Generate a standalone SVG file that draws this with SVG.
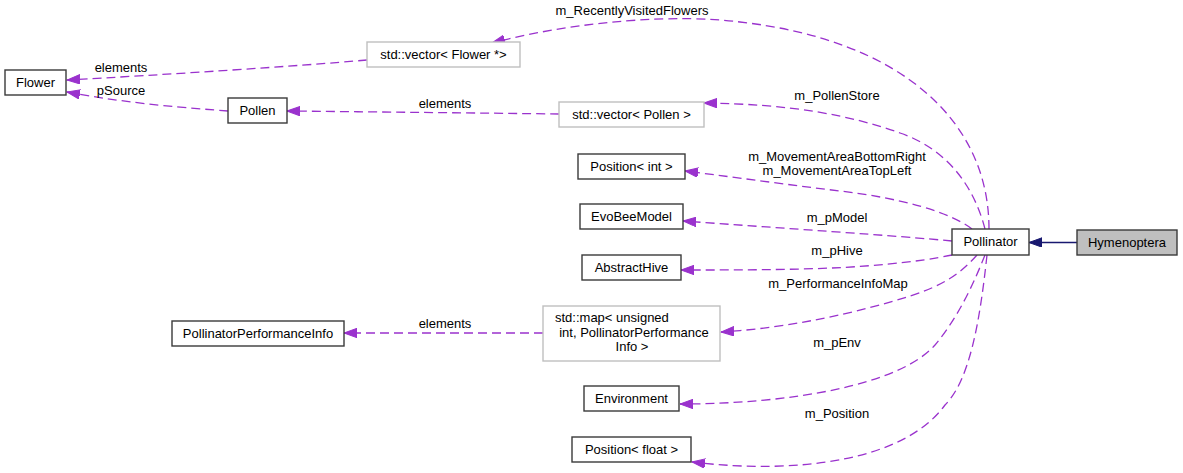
<svg xmlns="http://www.w3.org/2000/svg" width="1183" height="473" viewBox="0 0 1183 473">
  <style>
    .box { fill: #ffffff; stroke: #3a3a3a; stroke-width: 1.4; }
    .tmpl { fill: #ffffff; stroke: #bfbfbf; stroke-width: 1.4; }
    .cur { fill: #bfbfbf; stroke: #3a3a3a; stroke-width: 1.4; }
    text { font-family: "Liberation Sans", Arial, Helvetica, sans-serif; font-size: 13px; fill: #000000; }
    .c { text-anchor: middle; }
    .use { fill: none; stroke: #9a32cd; stroke-width: 1.3; stroke-dasharray: 9 5; }
    .inh { fill: none; stroke: #191970; stroke-width: 1.3; }
  </style>
  <defs>
    <marker id="headUse" markerUnits="userSpaceOnUse" markerWidth="14" markerHeight="10" refX="13" refY="4.7" orient="auto">
      <path d="M0,0 L13,4.7 L0,9.4 z" fill="#9a32cd" stroke="#9a32cd" stroke-width="1" stroke-dasharray="none"/>
    </marker>
    <marker id="headInh" markerUnits="userSpaceOnUse" markerWidth="14" markerHeight="10" refX="13" refY="4.7" orient="auto">
      <path d="M0,0 L13,4.7 L0,9.4 z" fill="#191970" stroke="#191970" stroke-width="1" stroke-dasharray="none"/>
    </marker>
  </defs>

  <rect width="1183" height="473" fill="#ffffff"/>

  <!-- connectors -->
  <g id="edges">
    <path class="inh" d="M1077,242.5 L1029,242.5" marker-end="url(#headInh)"/>

    <path class="use" d="M989,229 C989,120 900,40 740,22 C680,14 580,20 492,43" marker-end="url(#headUse)"/>
    <text class="c" x="632" y="15">m_RecentlyVisitedFlowers</text>

    <path class="use" d="M985,229 C975,190 950,150 900,133 C850,115 790,104 704,103" marker-end="url(#headUse)"/>
    <text class="c" x="837" y="100">m_PollenStore</text>

    <path class="use" d="M972,229 C950,212 900,198 840,191 C790,185 740,178 685,171" marker-end="url(#headUse)"/>
    <text class="c" x="837" y="161">m_MovementAreaBottomRight</text>
    <text class="c" x="837" y="175">m_MovementAreaTopLeft</text>

    <path class="use" d="M952,241 C900,236 780,228 683,221" marker-end="url(#headUse)"/>
    <text class="c" x="837" y="222">m_pModel</text>

    <path class="use" d="M952,255 C920,262 860,268 800,269 C760,270 720,270 681,270" marker-end="url(#headUse)"/>
    <text class="c" x="837" y="255">m_pHive</text>

    <path class="use" d="M977,255 C962,272 945,285 910,296 C860,312 790,328 721,332" marker-end="url(#headUse)"/>
    <text class="c" x="838" y="288">m_PerformanceInfoMap</text>

    <path class="use" d="M985,255 C975,280 960,315 935,345 C900,385 790,404 680,404" marker-end="url(#headUse)"/>
    <text class="c" x="837" y="347">m_pEnv</text>

    <path class="use" d="M987,255 C980,320 970,380 945,405 C905,460 800,475 692,462" marker-end="url(#headUse)"/>
    <text class="c" x="837" y="418">m_Position</text>

    <path class="use" d="M367,60 C300,66 160,75 67,80" marker-end="url(#headUse)"/>
    <text class="c" x="121" y="72">elements</text>

    <path class="use" d="M228,111 C190,108 130,104 67,92" marker-end="url(#headUse)"/>
    <text class="c" x="121" y="95">pSource</text>

    <path class="use" d="M559,114 C480,113 380,112 287,111" marker-end="url(#headUse)"/>
    <text class="c" x="445" y="108">elements</text>

    <path class="use" d="M543,333 L344,333" marker-end="url(#headUse)"/>
    <text class="c" x="445" y="328">elements</text>
  </g>

  <!-- nodes -->
  <g id="node-Hymenoptera">
    <rect class="cur" x="1077" y="230" width="100" height="25"/>
    <text class="c" x="1127" y="247">Hymenoptera</text>
  </g>
  <g id="node-Pollinator">
    <rect class="box" x="952" y="229" width="77" height="26"/>
    <text class="c" x="990.5" y="246">Pollinator</text>
  </g>
  <g id="node-Flower">
    <rect class="box" x="5" y="70" width="61" height="25"/>
    <text class="c" x="35.5" y="87">Flower</text>
  </g>
  <g id="node-Pollen">
    <rect class="box" x="228" y="98" width="59" height="25"/>
    <text class="c" x="257.5" y="115">Pollen</text>
  </g>
  <g id="node-vectorFlower">
    <rect class="tmpl" x="367" y="42" width="153" height="25"/>
    <text class="c" x="443.5" y="59">std::vector&lt; Flower *&gt;</text>
  </g>
  <g id="node-vectorPollen">
    <rect class="tmpl" x="559" y="102" width="145" height="25"/>
    <text class="c" x="631.5" y="119">std::vector&lt; Pollen &gt;</text>
  </g>
  <g id="node-PositionInt">
    <rect class="box" x="578" y="154" width="107" height="25"/>
    <text class="c" x="631.5" y="171">Position&lt; int &gt;</text>
  </g>
  <g id="node-EvoBeeModel">
    <rect class="box" x="580" y="204" width="103" height="25"/>
    <text class="c" x="631.5" y="221">EvoBeeModel</text>
  </g>
  <g id="node-AbstractHive">
    <rect class="box" x="582" y="255" width="99" height="25"/>
    <text class="c" x="631.5" y="272">AbstractHive</text>
  </g>
  <g id="node-PollinatorPerformanceInfo">
    <rect class="box" x="172" y="321" width="172" height="25"/>
    <text class="c" x="258" y="338">PollinatorPerformanceInfo</text>
  </g>
  <g id="node-mapPerformance">
    <rect class="tmpl" x="543" y="306" width="177" height="55"/>
    <text x="555" y="322">std::map&lt; unsigned</text>
    <text class="c" x="634" y="337"> int, PollinatorPerformance</text>
    <text class="c" x="632" y="351">Info &gt;</text>
  </g>
  <g id="node-Environment">
    <rect class="box" x="584" y="386" width="95" height="25"/>
    <text class="c" x="631.5" y="403">Environment</text>
  </g>
  <g id="node-PositionFloat">
    <rect class="box" x="572" y="437" width="119" height="25"/>
    <text class="c" x="631.5" y="454">Position&lt; float &gt;</text>
  </g>
</svg>
